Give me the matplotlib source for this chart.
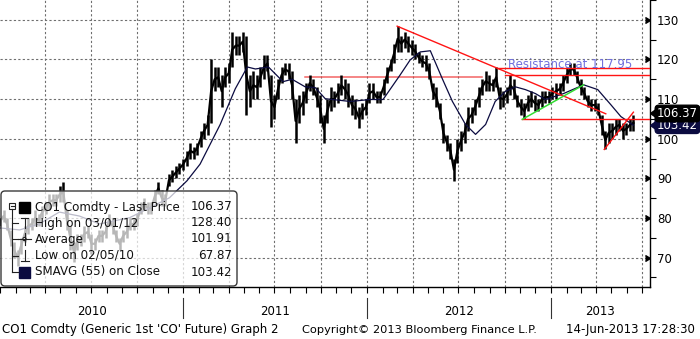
import numpy as np
import pandas as pd
import matplotlib
matplotlib.use("Agg")
import matplotlib.pyplot as plt
import matplotlib.dates as mdates
import matplotlib.transforms as mtrans
from matplotlib.patches import FancyBboxPatch, Rectangle, Circle
from matplotlib.lines import Line2D

W, H = 700, 339
NAVY = "#0b0b40"
RED = "#ff1414"
PINK = "#f04a4a"
GREEN = "#33dd33"
GRID = "#6e6e6e"
RES_BLUE = "#7070dd"

# weekly bars (Fridays): high / low of the black band
week_start = "2010-01-01"
week_hi = [
    80, 82, 80, 77, 74, 72, 75, 78, 80, 80, 82, 81, 83, 84, 86, 86, 86, 88,
    89, 82, 78, 74, 76, 76, 78, 78, 76, 75, 77, 77, 78, 81, 80, 77, 75, 77,
    78, 80, 80, 81, 84, 85, 84, 84, 87, 89, 87, 86, 91, 92, 93, 94,
    95, 97, 99, 98, 99, 102, 104, 106, 120, 118, 118, 116, 118, 119,
    127, 126, 126, 127, 126, 116, 117, 116, 118, 121, 121, 116, 111,
    115, 118, 119, 119, 117, 110, 111, 112, 114, 116, 115, 113, 111,
    106, 110, 113, 112, 114, 116, 115, 114, 111, 110, 108, 109,
    110, 114, 114, 112, 112, 115, 118, 120, 124, 128.4, 126, 127, 126, 125,
    124, 122, 121, 121, 119, 114, 113, 109, 104, 101, 99, 95, 100,
    102, 104, 108, 108, 110, 113, 115, 117, 116, 115, 118, 113, 112,
    113, 116, 115, 111, 110, 109, 111, 112, 111, 110, 112, 112, 112,
    113, 114, 114, 116, 118, 119, 119, 117, 115, 113, 111, 110, 110,
    109, 106, 102, 104, 104, 105, 105, 104, 104, 105, 106,
]
week_lo = [
    78, 79, 77, 73, 70, 68, 71, 74, 76, 77, 78, 78, 80, 81, 82, 83, 83, 84,
    84, 77, 72, 69, 72, 73, 74, 75, 71, 72, 74, 74, 75, 78, 76, 74, 72, 74,
    75, 77, 77, 78, 81, 82, 81, 81, 84, 86, 83, 83, 88, 89, 90, 91,
    92, 93, 95, 95, 96, 98, 100, 101, 104, 112, 113, 108, 113, 114,
    118, 121, 121, 122, 106, 108, 110, 110, 113, 115, 117, 103, 105,
    110, 114, 116, 115, 110, 99, 104, 106, 109, 112, 111, 108, 104,
    99, 104, 107, 108, 109, 111, 110, 108, 106, 105, 102.6, 105,
    106, 109, 110, 109, 109, 111, 114, 117, 119, 122, 122, 123, 122, 121,
    120, 119, 118, 117, 115, 110, 108, 105, 99, 97, 95, 89.4, 94,
    97, 99, 102, 104, 106, 108, 111, 112, 112, 112, 113, 107.6, 108,
    109, 111, 110, 108, 106, 105, 107, 108, 107, 107, 108, 109, 109,
    110, 110, 111, 112, 114, 116, 116, 114, 111, 110, 108, 107, 107,
    106, 101, 97.4, 99, 100, 101, 102, 100, 101, 102, 102,
]

# 55-day simple moving average on close
ma_dates = [
    "2010-01-01", "2010-02-09", "2010-03-20", "2010-04-29", "2010-06-08",
    "2010-07-18", "2010-09-16", "2010-10-26", "2010-12-04", "2011-01-08",
    "2011-02-03", "2011-02-23", "2011-03-15", "2011-04-14", "2011-05-08",
    "2011-05-24", "2011-06-19", "2011-07-18", "2011-08-05", "2011-08-31",
    "2011-09-20", "2011-10-10", "2011-11-29", "2012-01-07", "2012-02-02",
    "2012-03-07", "2012-03-27", "2012-04-16", "2012-05-06", "2012-05-30",
    "2012-06-19", "2012-07-15", "2012-08-04", "2012-08-24", "2012-09-12",
    "2012-10-02", "2012-10-22", "2012-11-11", "2012-12-01", "2012-12-21",
    "2013-01-26", "2013-03-07", "2013-04-04", "2013-04-30", "2013-05-20",
    "2013-06-14",
]
ma_vals = [
    77.5, 77.0, 78.5, 81.5, 80.5, 78.5, 80.1, 82.6, 85.1, 89.4,
    93.6, 98.6, 103.6, 112.6, 118.1, 117.6, 118.1, 114.4, 115.0, 113.1,
    112.9, 110.1, 109.4, 109.9, 109.9, 116.1, 119.9, 121.9, 122.2, 115.1,
    109.4, 103.6, 101.1, 103.6, 109.4, 111.9, 113.1, 112.4, 111.4, 109.9,
    111.4, 113.6, 112.4, 108.6, 105.6, 103.42,
]

# hand-drawn trend lines: start date, start value, end date, end value
red_lines = [
    ("2012-03-01", 128.4, "2013-04-20", 106.3),   # falling resistance
    ("2012-09-16", 117.95, "2013-07-17", 117.95),
    ("2012-10-02", 116.2, "2013-07-17", 116.2),
    ("2012-11-05", 104.9, "2013-07-17", 104.9),
    ("2013-04-17", 97.3, "2013-06-14", 106.7),    # rising support
]
pink_line = ("2011-08-31", 115.5, "2012-08-16", 115.5)
green_line = ("2012-11-05", 104.9, "2013-03-07", 113.6)

last_price, sma_last = 106.37, 103.42
legend_rows = ["CO1 Comdty - Last Price", "High on 03/01/12", "Average",
               "Low on 02/05/10", "SMAVG (55) on Close"]
legend_vals = ["106.37", "128.40", "101.91", "67.87", "103.42"]
years = [2010, 2011, 2012, 2013]


def fx(x):
    return x / W


def fy(y):
    return 1 - y / H


plt.rcParams["font.family"] = "DejaVu Sans"
fig = plt.figure(figsize=(W / 100, H / 100), dpi=100)
fig.patch.set_facecolor("white")
ax = fig.add_axes([0, fy(287), fx(650), 287 / H])

x_left, x_right = pd.Timestamp("2010-01-01"), pd.Timestamp("2013-07-17")
ax.set_xlim(x_left, x_right)
ax.set_ylim(62.6, 134.4)

# grid
for v in range(70, 131, 10):
    ax.axhline(v, color=GRID, lw=0.8, ls=(0, (2, 2)), zorder=1)
for q in pd.date_range("2010-04-01", "2013-07-01", freq="QS"):
    ax.axvline(q, color=GRID, lw=0.8, ls=(0, (2, 2)), zorder=1)

# price bars: weekly high-low bars joined through their mid points
weeks = mdates.date2num(pd.date_range(week_start, periods=len(week_hi), freq="7D"))
hi = np.array(week_hi, float)
lo = np.array(week_lo, float)
ax.vlines(weeks, lo, hi, color="black", lw=1.8, zorder=3)
ax.plot(weeks, (lo + hi) / 2, color="black", lw=1.6, zorder=3)

ax.plot(pd.to_datetime(ma_dates), ma_vals, color=NAVY, lw=0.9, zorder=4)

for d0, v0, d1, v1 in red_lines:
    ax.plot(pd.to_datetime([d0, d1]), [v0, v1], color=RED, lw=1.0, zorder=5)
d0, v0, d1, v1 = pink_line
ax.plot(pd.to_datetime([d0, d1]), [v0, v1], color=PINK, lw=1.1, alpha=0.85, zorder=2)
d0, v0, d1, v1 = green_line
ax.plot(pd.to_datetime([d0, d1]), [v0, v1], color=GREEN, lw=1.1, zorder=5)

ax.text(pd.Timestamp("2013-02-08"), 118.7, "Resistance at 117.95", color=RES_BLUE,
        fontsize=8.5, ha="center", va="center", zorder=6)

# axes styling
for s in ("left", "top"):
    ax.spines[s].set_visible(False)
for s in ("right", "bottom"):
    ax.spines[s].set_color("black")
    ax.spines[s].set_linewidth(1.0)
ax.set_facecolor("white")

ax.set_xticks(pd.date_range("2010-01-01", "2013-07-01", freq="MS"))
ax.set_xticklabels([])
ax.tick_params(axis="x", length=4, width=0.8, direction="out", color="black")

ax.yaxis.tick_right()
yt = list(range(70, 131, 10))
ax.set_yticks(yt)
ax.set_yticklabels([str(v) for v in yt])
ax.set_yticks(list(range(65, 136, 10)), minor=True)
ax.tick_params(axis="y", which="major", length=0, pad=5, labelsize=8.5, labelcolor="black")
ax.tick_params(axis="y", which="minor", length=4, width=0.8, direction="out")
ytrans = mtrans.blended_transform_factory(ax.transAxes, ax.transData)
ax.plot(np.ones(len(yt)), yt, ls="none", marker=5, ms=5, color="black",
        transform=ytrans, clip_on=False)

# last-value tags: rounded box with a left pointer
for val, face in ((sma_last, NAVY), (last_price, "black")):
    ax.annotate(f"{val:.2f}", xy=(1, val), xycoords=ytrans, xytext=(5, 0),
                textcoords="offset points", ha="left", va="center", color="white",
                fontsize=8.5, annotation_clip=False, zorder=7,
                bbox=dict(boxstyle="round,pad=0.15,rounding_size=0.3", fc=face, ec=face))
    ax.plot([1.0], [val], marker=4, ms=7, color=face, ls="none", transform=ytrans,
            clip_on=False, zorder=7)

# year labels and separators
xtrans = ax.get_xaxis_transform()
for yr in years:
    start = pd.Timestamp(f"{yr}-01-01")
    end = min(pd.Timestamp(f"{yr + 1}-01-01"), x_right)
    ax.text(start + (end - start) / 2, -0.084, str(yr), transform=xtrans,
            ha="center", va="center", fontsize=8.5)
    if yr > years[0]:
        ax.add_line(Line2D([start, start], [-0.04, -0.108], transform=xtrans,
                           color="#333333", lw=0.8, clip_on=False))

fig.text(fx(2), fy(330), "CO1 Comdty (Generic 1st 'CO' Future) Graph 2",
         fontsize=8.5, va="center")
fig.text(fx(302), fy(330), "Copyright\u00a9 2013 Bloomberg Finance L.P.",
         fontsize=8.2, va="center")
fig.text(fx(566), fy(330), "14-Jun-2013 17:28:30", fontsize=8.5, va="center")

# legend panel, drawn in pixel units
lax = fig.add_axes([0, fy(289), fx(240), 100 / H])
lax.set_xlim(0, 240)
lax.set_ylim(289, 189)
lax.axis("off")
lax.add_patch(FancyBboxPatch((1, 191), 236, 95, boxstyle="round,pad=0,rounding_size=4",
                             fc=(1, 1, 1, 0.72), ec="#3a3a3a", lw=1.0))
rows_y = [207, 223, 239, 255.5, 272]
for ry, lab, val in zip(rows_y, legend_rows, legend_vals):
    lax.text(35, ry, lab, fontsize=8.6, va="center", ha="left", color="#111111")
    lax.text(232, ry, val, fontsize=8.6, va="center", ha="right", color="#111111")
k = dict(color="#222222", lw=0.8)
lax.add_patch(Rectangle((9, 203), 6, 6, fc="white", ec="#222222", lw=0.8))
lax.plot([10.5, 13.5], [206, 206], **k)
lax.plot([12, 12], [209, 272], **k)
for ry in rows_y[1:]:
    lax.plot([12, 18], [ry, ry], **k)
lax.add_patch(Rectangle((18.5, 201.5), 11, 11, fc="black", ec="black"))
lax.add_patch(Rectangle((18.5, 266.5), 11, 11, fc=NAVY, ec=NAVY))
lax.plot([21, 28], [218, 218], **k)
lax.plot([24.5, 24.5], [218, 228], **k)
lax.plot([18, 31], [239, 239], **k)
lax.plot([24.5, 24.5], [233, 245], **k)
lax.add_patch(Circle((24.5, 239), 1.6, fc="white", ec="#222222", lw=0.8))
lax.plot([24.5, 24.5], [250, 260.5], **k)
lax.plot([20.5, 28.5], [260.5, 260.5], **k)

fig.savefig("out.png", dpi=100)
